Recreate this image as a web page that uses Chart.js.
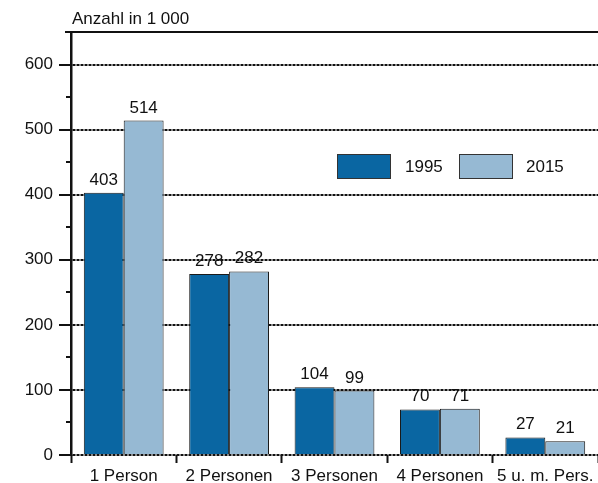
<!DOCTYPE html>
<html lang="de">
<head>
    <meta charset="UTF-8">
    <title>Haushalte nach Größe</title>
    <script src="https://cdn.jsdelivr.net/npm/chart.js"></script>
    <style>
        body { margin: 0; background: #fff; }
        #wrap { width: 598px; height: 483px; }
    </style>
</head>
<body>
    <div id="wrap">
        <canvas id="myChart" width="598" height="483"></canvas>
    </div>

    <script>
        // Daten
        const categories = ['1 Person', '2 Personen', '3 Personen', '4 Personen', '5 u. m. Pers.'];
        const seriesLabels = ['1995', '2015'];
        const values1995 = [403, 278, 104, 70, 27];
        const values2015 = [514, 282, 99, 71, 21];
        const yTitle = 'Anzahl in 1 000';

        const FONT = 'Liberation Sans, Arial, sans-serif';
        const FSIZE = 17;
        const colors = ['#0a66a2', '#96b9d3'];

        // Achsentitel, obere Linie, kleine Ticks, Werte und Legende
        const extras = {
            id: 'extras',
            afterDatasetsDraw(chart) {
                const ctx = chart.ctx;
                const area = chart.chartArea;
                const y = chart.scales.y;

                ctx.save();
                ctx.strokeStyle = '#111';
                ctx.lineWidth = 2;
                // obere Linie
                ctx.beginPath();
                ctx.moveTo(area.left - 6, area.top);
                ctx.lineTo(chart.width, area.top);
                ctx.stroke();
                // kleine Ticks bei 50, 150, ...
                for (let v = 50; v < 650; v += 100) {
                    const py = Math.round(y.getPixelForValue(v));
                    ctx.beginPath();
                    ctx.moveTo(area.left - 5, py);
                    ctx.lineTo(area.left, py);
                    ctx.stroke();
                }

                ctx.fillStyle = '#111';
                ctx.font = FSIZE + 'px ' + FONT;
                // Titel
                ctx.textAlign = 'left';
                ctx.textBaseline = 'middle';
                ctx.fillText(yTitle, area.left + 1, 19);

                // Werte über den Balken
                ctx.textAlign = 'center';
                ctx.textBaseline = 'alphabetic';
                chart.data.datasets.forEach((ds, i) => {
                    chart.getDatasetMeta(i).data.forEach((bar, j) => {
                        ctx.fillText(String(ds.data[j]), bar.x, bar.y - 8);
                    });
                });

                // Legende
                const boxes = [[337, 405], [459, 526]];
                chart.data.datasets.forEach((ds, i) => {
                    const [bx, tx] = boxes[i];
                    ctx.fillStyle = ds.backgroundColor;
                    ctx.fillRect(bx, 154, 53, 24);
                    ctx.strokeStyle = '#333';
                    ctx.lineWidth = 1;
                    ctx.strokeRect(bx + 0.5, 154.5, 53, 24);
                    ctx.fillStyle = '#111';
                    ctx.textAlign = 'left';
                    ctx.textBaseline = 'middle';
                    ctx.fillText(ds.label, tx, 167);
                });
                ctx.restore();
            }
        };

        const ctx = document.getElementById('myChart').getContext('2d');
        const myChart = new Chart(ctx, {
            type: 'bar',
            data: {
                labels: categories,
                datasets: [
                    { label: seriesLabels[0], data: values1995, backgroundColor: colors[0], borderColor: '#1a1a1a', borderWidth: 1 },
                    { label: seriesLabels[1], data: values2015, backgroundColor: colors[1], borderColor: '#1a1a1a', borderWidth: 1 }
                ]
            },
            options: {
                responsive: false,
                animation: false,
                layout: { padding: { left: 0, top: 32, right: -2, bottom: 0 } },
                datasets: { bar: { categoryPercentage: 0.757, barPercentage: 1 } },
                plugins: {
                    legend: { display: false },
                    tooltip: { enabled: false }
                },
                scales: {
                    x: {
                        afterFit: s => { s.height = 28; },
                        grid: {
                            drawOnChartArea: false,
                            tickLength: 8,
                            tickColor: '#111',
                            tickWidth: 2
                        },
                        border: { display: false },
                        ticks: { color: '#111', padding: 3, font: { family: FONT, size: FSIZE } }
                    },
                    y: {
                        min: 0,
                        max: 650,
                        afterFit: s => { s.width = 71; },
                        ticks: {
                            stepSize: 50,
                            autoSkip: false,
                            padding: 6,
                            color: '#111',
                            font: { family: FONT, size: FSIZE },
                            callback: v => (v % 100 === 0 ? v : '')
                        },
                        grid: {
                            lineWidth: 2,
                            color: c => (c.tick && c.tick.value % 100 === 0 && c.tick.value < 650 ? '#111' : 'rgba(0,0,0,0)'),
                            tickLength: 12,
                            tickWidth: 2,
                            tickColor: c => (c.tick && c.tick.value % 100 === 0 && c.tick.value < 650 ? '#111' : 'rgba(0,0,0,0)')
                        },
                        border: { display: true, color: '#111', width: 2.5, dash: [3, 1] }
                    }
                }
            },
            plugins: [extras]
        });
    </script>
</body>
</html>
